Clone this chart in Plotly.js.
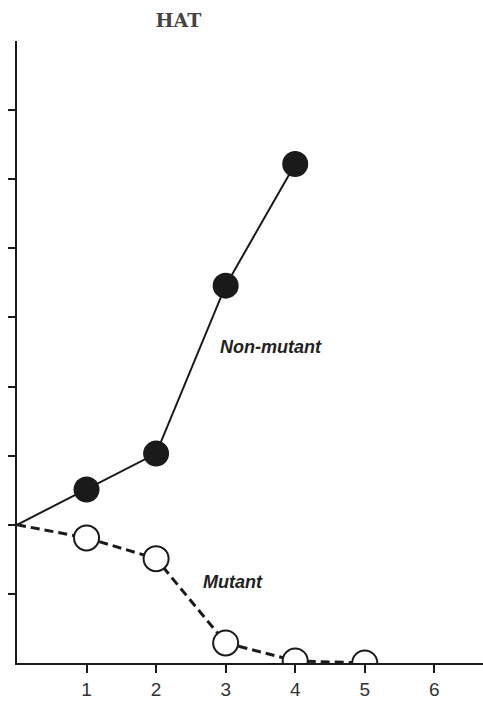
<!DOCTYPE html>
<html>
<head>
<meta charset="utf-8">
<script src="https://cdn.plot.ly/plotly-3.0.1.min.js"></script>
<style>html,body{margin:0;padding:0;background:#fff;}#chart{width:483px;height:712px;}</style>
</head>
<body>
<div id="chart"></div>
<script>
const xNon = [0, 1, 2, 3, 4];
const yNon = [2.0, 2.51, 3.03, 5.46, 7.22];
const xMut = [0, 1, 2, 3, 4, 5];
const yMut = [2.0, 1.81, 1.51, 0.29, 0.03, 0.0];
const xTicks = [1, 2, 3, 4, 5, 6];
const xTickText = ['1', '2', '3', '4', '5', '6'];
const yTicks = [1, 2, 3, 4, 5, 6, 7, 8];

const traces = [
  {
    x: xNon, y: yNon, type: 'scatter', mode: 'lines+markers',
    line: {color: '#1a1a1a', width: 2},
    marker: {size: [0, 26, 26, 26, 26], color: '#1a1a1a', opacity: 1, line: {width: 0}},
    cliponaxis: true,
    name: 'Non-mutant', hoverinfo: 'skip'
  },
  {
    x: xMut, y: yMut, type: 'scatter', mode: 'lines+markers',
    line: {color: '#1a1a1a', width: 3, dash: '9px,5px'},
    marker: {size: [0, 25, 25, 25, 25, 25], color: '#ffffff', opacity: 1, line: {color: '#1a1a1a', width: 2}},
    cliponaxis: true,
    name: 'Mutant', hoverinfo: 'skip'
  }
];

const layout = {
  width: 483, height: 712,
  margin: {l: 17, r: 0, t: 41, b: 49},
  paper_bgcolor: '#ffffff', plot_bgcolor: '#ffffff',
  showlegend: false,
  title: {text: 'HAT', x: 178.5/483, xanchor: 'center', y: 1 - 20/712, yanchor: 'middle',
          font: {family: 'DejaVu Serif', size: 19, color: '#444', weight: 'bold'}},
  xaxis: {
    range: [0, 6.7], showgrid: false, zeroline: false,
    showline: true, linecolor: '#1a1a1a', linewidth: 2,
    tickmode: 'array', tickvals: xTicks, ticktext: xTickText,
    ticks: 'outside', ticklen: 8, tickwidth: 2, tickcolor: '#1a1a1a',
    tickfont: {family: 'Liberation Sans', size: 19, color: '#333'},
    fixedrange: true
  },
  yaxis: {
    range: [0, 9.0], showgrid: false, zeroline: false,
    showline: true, linecolor: '#1a1a1a', linewidth: 2,
    tickmode: 'array', tickvals: yTicks, showticklabels: false,
    ticks: 'outside', ticklen: 7, tickwidth: 2, tickcolor: '#1a1a1a',
    fixedrange: true
  },
  annotations: [
    {x: 3.65, y: 4.57, xref: 'x', yref: 'y', text: '<b><i>Non-mutant</i></b>', showarrow: false,
     font: {family: 'Liberation Sans', size: 18, color: '#222'}},
    {x: 3.1, y: 1.17, xref: 'x', yref: 'y', text: '<b><i>Mutant</i></b>', showarrow: false,
     font: {family: 'Liberation Sans', size: 18, color: '#222'}}
  ]
};

Plotly.newPlot('chart', traces, layout, {displayModeBar: false, staticPlot: true});
</script>
</body>
</html>
